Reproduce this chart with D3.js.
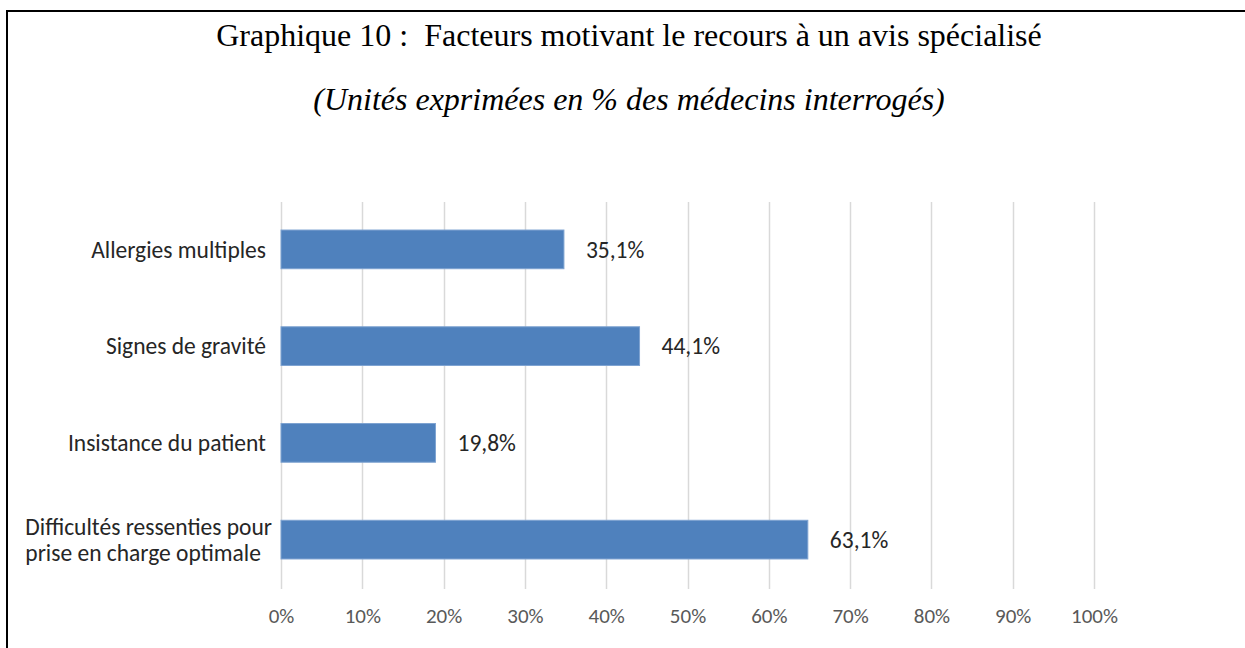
<!DOCTYPE html>
<meta charset="utf-8">
<script src="https://d3js.org/d3.v7.min.js"></script>
<style>
    body { margin: 0; background: #fff; }
    svg { display: block; }
</style>
<body>
<div id="chart"></div>
<script>
    // data
    var categories = ["Allergies multiples", "Signes de gravité", "Insistance du patient", "Difficultés ressenties pour prise en charge optimale"];
    var categoryLines = [["Allergies multiples"], ["Signes de gravité"], ["Insistance du patient"], ["Difficultés ressenties pour", "prise en charge optimale"]];
    // bar lengths as drawn in the picture (%)
    var barValues = [34.8, 44.1, 19.0, 64.8];
    // printed data labels
    var valueLabels = ["35,1%", "44,1%", "19,8%", "63,1%"];
    var tickValues = [0, 10, 20, 30, 40, 50, 60, 70, 80, 90, 100];

    var width = 1245, height = 648;
    var sans = "Calibri, Carlito, 'Open Sans', sans-serif";
    var serif = "'Liberation Serif', 'Times New Roman', serif";

    var svg = d3.select("#chart").append("svg")
        .attr("width", width)
        .attr("height", height);

    // frame (only top and left edges are visible)
    svg.append("rect")
        .attr("x", 7).attr("y", 11)
        .attr("width", 1300).attr("height", 700)
        .attr("fill", "none")
        .attr("stroke", "#000")
        .attr("stroke-width", 2);

    // titles
    svg.append("text")
        .attr("x", 629).attr("y", 46)
        .attr("text-anchor", "middle")
        .style("font-family", serif)
        .style("font-size", "32px")
        .style("white-space", "pre")
        .text("Graphique 10 :  Facteurs motivant le recours à un avis spécialisé");

    svg.append("text")
        .attr("x", 629).attr("y", 110)
        .attr("text-anchor", "middle")
        .style("font-family", serif)
        .style("font-size", "32px")
        .style("font-style", "italic")
        .text("(Unités exprimées en % des médecins interrogés)");

    var x = d3.scaleLinear().domain([0, 100]).range([281, 1094]);
    var y = d3.scaleBand().domain(categories).range([201, 588]).paddingInner(0.6).paddingOuter(0.3);

    // gridlines
    svg.append("g")
        .selectAll("line")
        .data(tickValues)
        .enter()
        .append("line")
        .attr("x1", function (d) { return Math.round(x(d)) + 0.5 })
        .attr("x2", function (d) { return Math.round(x(d)) + 0.5 })
        .attr("y1", 202)
        .attr("y2", 589)
        .attr("stroke", "#d9d9d9")
        .attr("stroke-width", 1.5);

    // x axis labels
    var xAxis = svg.append("g")
        .attr("transform", "translate(0,589)")
        .call(d3.axisBottom(x).tickValues(tickValues).tickSize(0).tickPadding(19).tickFormat(function (d) { return d + "%" }));
    xAxis.select(".domain").remove();
    xAxis.selectAll("text")
        .attr("fill", "#595959")
        .style("font-family", sans)
        .style("font-size", "21px");

    var data = categories.map(function (c, i) {
        return { cat: c, lines: categoryLines[i], v: barValues[i], label: valueLabels[i] };
    });

    // bars
    svg.append("g")
        .selectAll("rect")
        .data(data)
        .enter()
        .append("rect")
        .attr("x", x(0))
        .attr("y", function (d) { return y(d.cat) })
        .attr("width", function (d) { return x(d.v) - x(0) })
        .attr("height", y.bandwidth())
        .attr("fill", "#4f81bd")
        .attr("stroke", "#7ea3d1")
        .attr("stroke-width", 1);

    // data labels
    svg.append("g")
        .selectAll("text")
        .data(data)
        .enter()
        .append("text")
        .attr("x", function (d) { return x(d.v) + 22 })
        .attr("y", function (d) { return y(d.cat) + y.bandwidth() / 2 })
        .attr("dy", "0.35em")
        .attr("fill", "#262626")
        .style("font-family", sans)
        .style("font-size", "23.5px")
        .text(function (d) { return d.label });

    // category labels: single lines end at 266, wrapped block left aligned and a bit wider
    var cat = svg.append("g")
        .selectAll("text")
        .data(data)
        .enter()
        .append("text")
        .attr("fill", "#262626")
        .style("font-family", sans)
        .style("font-size", "23.5px")
        .attr("y", function (d) { return y(d.cat) + y.bandwidth() / 2 - (d.lines.length - 1) * 13 });

    cat.each(function (d) {
        var t = d3.select(this);
        var spans = t.selectAll("tspan")
            .data(d.lines)
            .enter()
            .append("tspan")
            .attr("dy", function (l, i) { return i === 0 ? "0.35em" : "26.5px" })
            .text(function (l) { return l });
        var w = 0;
        spans.each(function () { w = Math.max(w, this.getComputedTextLength()) });
        var right = d.lines.length > 1 ? 272 : 266;
        spans.attr("x", right - w);
    });
</script>
</body>
